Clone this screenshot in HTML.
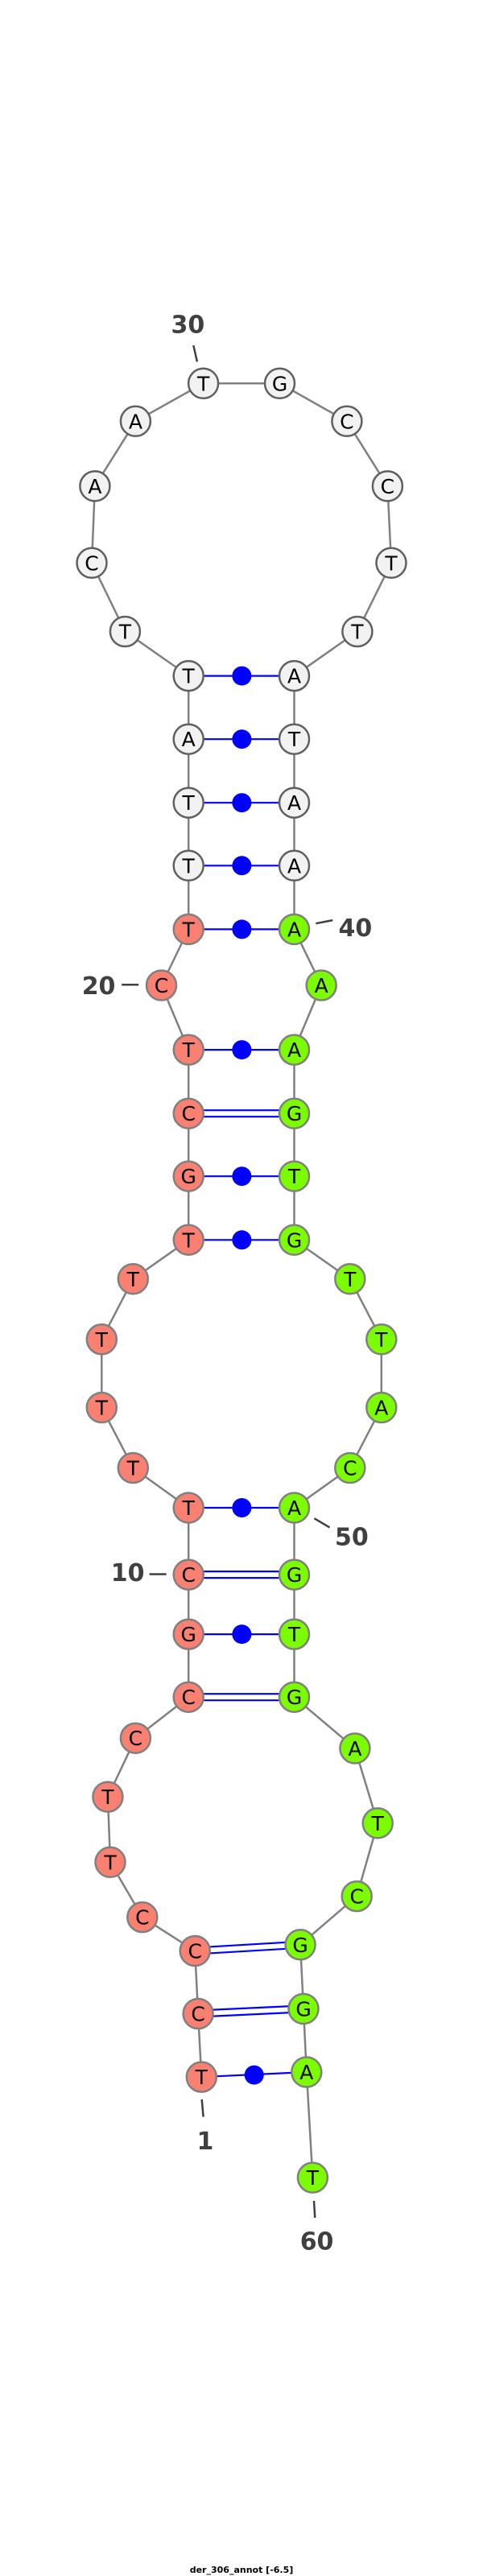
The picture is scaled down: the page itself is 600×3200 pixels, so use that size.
<!DOCTYPE html>
<html><head><meta charset="utf-8"><style>
html,body{margin:0;padding:0;background:#fff;}
svg{display:block;}
.n text{font-family:"DejaVu Sans","Liberation Sans",sans-serif;font-size:25px;text-anchor:middle;fill:#000;}
.lab{font-family:"DejaVu Sans","Liberation Sans",sans-serif;font-weight:bold;font-size:30px;fill:#404040;}
</style></head><body>
<svg width="600" height="3200" viewBox="0 0 600 3200" xmlns="http://www.w3.org/2000/svg">
<!-- backbone -->
<polyline fill="none" stroke="#808080" stroke-width="2.5" points="250.3,2580.1 246.1,2501.5 242.2,2423.5 176.8,2381.6 137,2313.3 133.9,2232.1 168.4,2159.2 234.2,2108.2 234.2,2030.1 234.2,1956.1 234.2,1873 165.3,1823.5 126.3,1748.5 126.3,1663.8 165.3,1588.8 234.2,1540.3 234.2,1461.2 234.2,1383.2 234.2,1304.1 200.5,1224 234.2,1154.4 234.2,1075.3 234.2,997.2 234.2,918.2 234.2,839.6 155.4,784.5 114,699.3 117.9,603.9 168.4,523.3 252.6,476.3 347.5,476.3 430.9,523.3 481.4,603.9 486,699.3 443.9,784.5 365.5,839.6 365.5,918.2 365.5,997.2 365.5,1075.3 365.5,1154.4 399.2,1224 365.5,1304.1 365.5,1383.2 365.5,1461.2 365.5,1540.3 434.8,1588.8 473.8,1663.8 473.8,1748.5 434.8,1823.5 365.5,1873 365.5,1956.1 365.5,2030.1 365.5,2108.2 440.9,2171.9 469.2,2264.8 443.2,2355.6 373.1,2415.8 377,2495.4 380.8,2574 388.4,2705.1"/>
<!-- pairs -->
<g stroke="#0000ff" stroke-width="2.2" fill="none">
<line x1="234.2" y1="839.6" x2="365.5" y2="839.6"/>
<line x1="234.2" y1="918.2" x2="365.5" y2="918.2"/>
<line x1="234.2" y1="997.2" x2="365.5" y2="997.2"/>
<line x1="234.2" y1="1075.3" x2="365.5" y2="1075.3"/>
<line x1="234.2" y1="1154.4" x2="365.5" y2="1154.4"/>
<line x1="234.2" y1="1304.1" x2="365.5" y2="1304.1"/>
<line x1="234.2" y1="1379.2" x2="365.5" y2="1379.2"/>
<line x1="234.2" y1="1387.2" x2="365.5" y2="1387.2"/>
<line x1="234.2" y1="1461.2" x2="365.5" y2="1461.2"/>
<line x1="234.2" y1="1540.3" x2="365.5" y2="1540.3"/>
<line x1="234.2" y1="1873" x2="365.5" y2="1873"/>
<line x1="234.2" y1="1952.1" x2="365.5" y2="1952.1"/>
<line x1="234.2" y1="1960.1" x2="365.5" y2="1960.1"/>
<line x1="234.2" y1="2030.1" x2="365.5" y2="2030.1"/>
<line x1="234.2" y1="2104.2" x2="365.5" y2="2104.2"/>
<line x1="234.2" y1="2112.2" x2="365.5" y2="2112.2"/>
<line x1="242.2" y1="2419.5" x2="373.1" y2="2411.8"/>
<line x1="242.2" y1="2427.5" x2="373.1" y2="2419.8"/>
<line x1="246.1" y1="2497.5" x2="377" y2="2491.4"/>
<line x1="246.1" y1="2505.5" x2="377" y2="2499.4"/>
<line x1="250.3" y1="2580.1" x2="380.8" y2="2574"/>
</g>
<g fill="#0000ff">
<circle cx="300.4" cy="839.6" r="12"/><circle cx="300.4" cy="918.2" r="12"/><circle cx="300.4" cy="997.2" r="12"/><circle cx="300.4" cy="1075.3" r="12"/><circle cx="300.4" cy="1154.4" r="12"/><circle cx="300.4" cy="1304.1" r="12"/><circle cx="300.4" cy="1461.2" r="12"/><circle cx="300.4" cy="1540.3" r="12"/><circle cx="300.4" cy="1873" r="12"/><circle cx="300.4" cy="2030.1" r="12"/><circle cx="315.7" cy="2577.6" r="12"/>
</g>
<!-- ticks -->
<g stroke="#404040" stroke-width="2.5">
<line x1="240.3" y1="429" x2="244.9" y2="449.3"/>
<line x1="392.3" y1="1147.2" x2="413.3" y2="1143.1"/>
<line x1="151.2" y1="1223.3" x2="172.2" y2="1223.3"/>
<line x1="390.4" y1="1886.2" x2="409.5" y2="1897.4"/>
<line x1="185.6" y1="1955.5" x2="206.7" y2="1955.5"/>
<line x1="250.7" y1="2608" x2="252.6" y2="2629.6"/>
<line x1="390" y1="2734" x2="391.3" y2="2755"/>
</g>
<g class="lab">
<text x="212.5" y="413.6">30</text>
<text x="420.5" y="1163">40</text>
<text x="101.7" y="1235">20</text>
<text x="416" y="1919.4">50</text>
<text x="137.8" y="1964">10</text>
<text x="244.5" y="2670">1</text>
<text x="372.7" y="2794.6">60</text>
</g>
<!-- nodes -->
<g class="n">
<g fill="#f2f2f2" stroke="#606060" stroke-width="2.5">
<circle cx="252.6" cy="476.3" r="18.5"/><circle cx="347.5" cy="476.3" r="18.5"/><circle cx="430.9" cy="523.3" r="18.5"/><circle cx="481.4" cy="603.9" r="18.5"/><circle cx="486" cy="699.3" r="18.5"/><circle cx="443.9" cy="784.5" r="18.5"/><circle cx="365.5" cy="839.6" r="18.5"/><circle cx="365.5" cy="918.2" r="18.5"/><circle cx="365.5" cy="997.2" r="18.5"/><circle cx="365.5" cy="1075.3" r="18.5"/>
<circle cx="168.4" cy="523.3" r="18.5"/><circle cx="117.9" cy="603.9" r="18.5"/><circle cx="114" cy="699.3" r="18.5"/><circle cx="155.4" cy="784.5" r="18.5"/><circle cx="234.2" cy="839.6" r="18.5"/><circle cx="234.2" cy="918.2" r="18.5"/><circle cx="234.2" cy="997.2" r="18.5"/><circle cx="234.2" cy="1075.3" r="18.5"/>
</g>
<g fill="#fa8072" stroke="#808080" stroke-width="2.5">
<circle cx="234.2" cy="1154.4" r="18.5"/><circle cx="200.5" cy="1224" r="18.5"/><circle cx="234.2" cy="1304.1" r="18.5"/><circle cx="234.2" cy="1383.2" r="18.5"/><circle cx="234.2" cy="1461.2" r="18.5"/><circle cx="234.2" cy="1540.3" r="18.5"/><circle cx="165.3" cy="1588.8" r="18.5"/><circle cx="126.3" cy="1663.8" r="18.5"/><circle cx="126.3" cy="1748.5" r="18.5"/><circle cx="165.3" cy="1823.5" r="18.5"/><circle cx="234.2" cy="1873" r="18.5"/><circle cx="234.2" cy="1956.1" r="18.5"/><circle cx="234.2" cy="2030.1" r="18.5"/><circle cx="234.2" cy="2108.2" r="18.5"/><circle cx="168.4" cy="2159.2" r="18.5"/><circle cx="133.9" cy="2232.1" r="18.5"/><circle cx="137" cy="2313.3" r="18.5"/><circle cx="176.8" cy="2381.6" r="18.5"/><circle cx="242.2" cy="2423.5" r="18.5"/><circle cx="246.1" cy="2501.5" r="18.5"/><circle cx="250.3" cy="2580.1" r="18.5"/>
</g>
<g fill="#7cfc00" stroke="#808080" stroke-width="2.5">
<circle cx="365.5" cy="1154.4" r="18.5"/><circle cx="399.2" cy="1224" r="18.5"/><circle cx="365.5" cy="1304.1" r="18.5"/><circle cx="365.5" cy="1383.2" r="18.5"/><circle cx="365.5" cy="1461.2" r="18.5"/><circle cx="365.5" cy="1540.3" r="18.5"/><circle cx="434.8" cy="1588.8" r="18.5"/><circle cx="473.8" cy="1663.8" r="18.5"/><circle cx="473.8" cy="1748.5" r="18.5"/><circle cx="434.8" cy="1823.5" r="18.5"/><circle cx="365.5" cy="1873" r="18.5"/><circle cx="365.5" cy="1956.1" r="18.5"/><circle cx="365.5" cy="2030.1" r="18.5"/><circle cx="365.5" cy="2108.2" r="18.5"/><circle cx="440.9" cy="2171.9" r="18.5"/><circle cx="469.2" cy="2264.8" r="18.5"/><circle cx="443.2" cy="2355.6" r="18.5"/><circle cx="373.1" cy="2415.8" r="18.5"/><circle cx="377" cy="2495.4" r="18.5"/><circle cx="380.8" cy="2574" r="18.5"/><circle cx="388.4" cy="2705.1" r="18.5"/>
</g>
<text x="252.6" y="485.3">T</text><text x="347.5" y="485.3">G</text><text x="430.9" y="532.3">C</text><text x="481.4" y="612.9">C</text><text x="486" y="708.3">T</text><text x="443.9" y="793.5">T</text><text x="365.5" y="848.6">A</text><text x="365.5" y="927.2">T</text><text x="365.5" y="1006.2">A</text><text x="365.5" y="1084.3">A</text>
<text x="168.4" y="532.3">A</text><text x="117.9" y="612.9">A</text><text x="114" y="708.3">C</text><text x="155.4" y="793.5">T</text><text x="234.2" y="848.6">T</text><text x="234.2" y="927.2">A</text><text x="234.2" y="1006.2">T</text><text x="234.2" y="1084.3">T</text>
<text x="234.2" y="1163.4">T</text><text x="200.5" y="1233">C</text><text x="234.2" y="1313.1">T</text><text x="234.2" y="1392.2">C</text><text x="234.2" y="1470.2">G</text><text x="234.2" y="1549.3">T</text><text x="165.3" y="1597.8">T</text><text x="126.3" y="1672.8">T</text><text x="126.3" y="1757.5">T</text><text x="165.3" y="1832.5">T</text><text x="234.2" y="1882">T</text><text x="234.2" y="1965.1">C</text><text x="234.2" y="2039.1">G</text><text x="234.2" y="2117.2">C</text><text x="168.4" y="2168.2">C</text><text x="133.9" y="2241.1">T</text><text x="137" y="2322.3">T</text><text x="176.8" y="2390.6">C</text><text x="242.2" y="2432.5">C</text><text x="246.1" y="2510.5">C</text><text x="250.3" y="2589.1">T</text>
<text x="365.5" y="1163.4">A</text><text x="399.2" y="1233">A</text><text x="365.5" y="1313.1">A</text><text x="365.5" y="1392.2">G</text><text x="365.5" y="1470.2">T</text><text x="365.5" y="1549.3">G</text><text x="434.8" y="1597.8">T</text><text x="473.8" y="1672.8">T</text><text x="473.8" y="1757.5">A</text><text x="434.8" y="1832.5">C</text><text x="365.5" y="1882">A</text><text x="365.5" y="1965.1">G</text><text x="365.5" y="2039.1">T</text><text x="365.5" y="2117.2">G</text><text x="440.9" y="2180.9">A</text><text x="469.2" y="2273.8">T</text><text x="443.2" y="2364.6">C</text><text x="373.1" y="2424.8">G</text><text x="377" y="2504.4">G</text><text x="380.8" y="2583">A</text><text x="388.4" y="2714.1">T</text>
</g>
<text x="300" y="3196" text-anchor="middle" font-family="DejaVu Sans, Liberation Sans, sans-serif" font-weight="bold" font-size="11" fill="#000">der_306_annot [-6.5]</text>
</svg>
</body></html>
